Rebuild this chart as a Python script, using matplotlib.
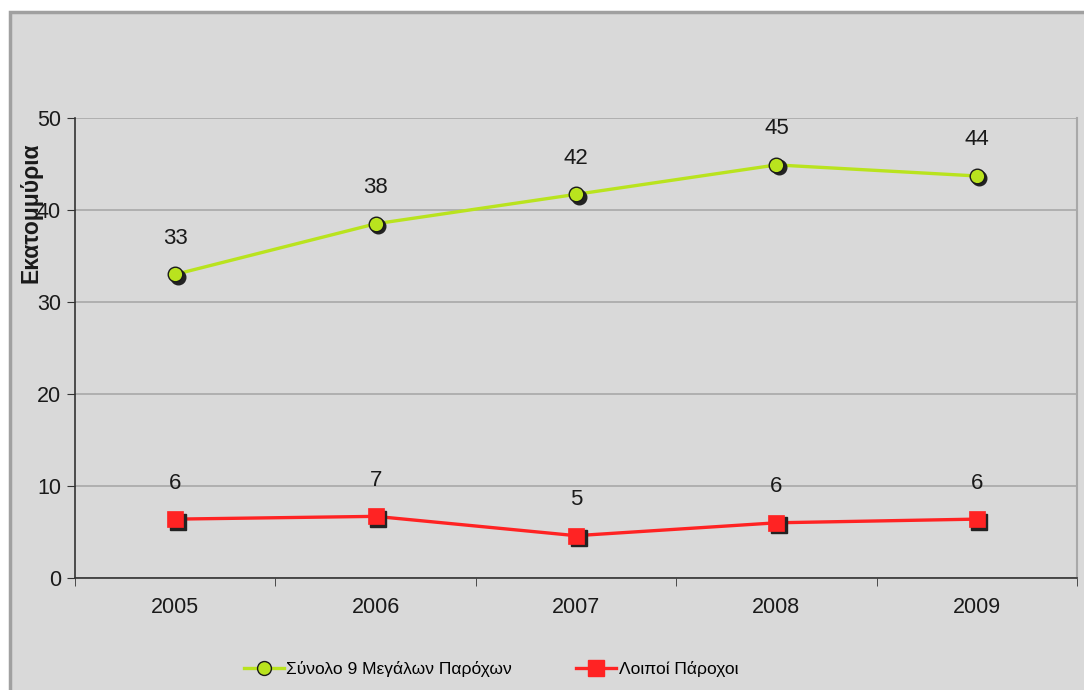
import matplotlib
matplotlib.use("Agg")
import matplotlib.pyplot as plt
import matplotlib.transforms as mtransforms
from matplotlib.patches import Rectangle
from matplotlib.lines import Line2D
import numpy as np

years = ["2005", "2006", "2007", "2008", "2009"]
big9 = [33.0, 38.5, 41.7, 44.9, 43.7]
others = [6.4, 6.7, 4.6, 6.0, 6.4]
big9_labels = ["33", "38", "42", "45", "44"]
others_labels = ["6", "7", "5", "6", "6"]
series_names = ["Σύνολο 9 Μεγάλων Παρόχων", "Λοιποί Πάροχοι"]
ylabel = "Εκατομμύρια"

plt.rcParams['font.family'] = ['Liberation Sans', 'DejaVu Sans']

BG = "#d9d9d9"
GREEN = "#b9e31e"
RED = "#ff2323"

fig = plt.figure(figsize=(10.84, 6.9), dpi=100)
fig.patch.set_facecolor("white")
W, H = 1084, 690
fig.patches.append(Rectangle((10 / W, -0.05), 1.2, 1 - 12 / H + 0.05,
                             transform=fig.transFigure, facecolor=BG,
                             edgecolor="#a0a0a0", linewidth=2.5, zorder=-5))

ax = fig.add_axes([75 / W, 1 - 578 / H, (1077 - 75) / W, 460 / H])
ax.set_zorder(2)
ax.set_facecolor(BG)
x = np.arange(len(years))

shadow = mtransforms.offset_copy(ax.transData, fig=fig, x=2.5, y=-2.5, units='dots')

ax.plot(x, big9, color=GREEN, lw=2.4, zorder=3)
ax.plot(x, big9, ls='none', marker='o', ms=10.5, color="#222222", transform=shadow, zorder=4)
ax.plot(x, big9, ls='none', marker='o', ms=10.5, mfc=GREEN, mec="#1a1a1a", mew=1.0, zorder=5)

ax.plot(x, others, color=RED, lw=2.4, zorder=3)
ax.plot(x, others, ls='none', marker='s', ms=11, color="#222222", transform=shadow, zorder=4)
ax.plot(x, others, ls='none', marker='s', ms=11, mfc=RED, mec=RED, mew=0.5, zorder=5)

for xi, v, t in zip(x, big9, big9_labels):
    ax.annotate(t, (xi, v), xytext=(0, 26), textcoords='offset points',
                ha='center', va='center', fontsize=16, color="#1a1a1a")
for xi, v, t in zip(x, others, others_labels):
    ax.annotate(t, (xi, v), xytext=(0, 26), textcoords='offset points',
                ha='center', va='center', fontsize=16, color="#1a1a1a")

ax.set_xlim(-0.5, 4.5)
ax.set_ylim(0, 50)
ax.set_yticks([0, 10, 20, 30, 40, 50])
ax.yaxis.grid(True, color="#a8a8a8", lw=1.2)
ax.set_axisbelow(True)
ax.set_xticks(x)
ax.set_xticklabels(years)
ax.set_xticks(np.arange(-0.5, 5.0, 1.0), minor=True)
ax.tick_params(axis='x', which='major', length=0, pad=14, labelsize=15.5, labelcolor="#1a1a1a")
ax.tick_params(axis='x', which='minor', length=6, direction='out', color="#333333")
ax.tick_params(axis='y', length=6, direction='out', color="#333333", labelsize=15.5, labelcolor="#1a1a1a", pad=4)

for s in ['left', 'bottom']:
    ax.spines[s].set_color("#333333")
    ax.spines[s].set_linewidth(1.2)
ax.spines['right'].set_color("#a8a8a8")
ax.spines['right'].set_linewidth(1.5)
ax.spines['top'].set_visible(False)

fig.text(31 / W, 1 - 213 / H, ylabel, rotation=90, ha='center', va='center',
         fontsize=16.5, fontweight='bold', color="#1a1a1a", zorder=10)

h1 = Line2D([], [], color=GREEN, lw=2.4, marker='o', ms=10, mfc=GREEN, mec="#1a1a1a")
h2 = Line2D([], [], color=RED, lw=2.4, marker='s', ms=11, mfc=RED, mec=RED)
fig.legend([h1, h2], series_names, loc='center', bbox_to_anchor=(491 / W, 1 - 669 / H),
           ncol=2, frameon=False, prop={'size': 12.5}, handlelength=2.3, columnspacing=3.7,
           handletextpad=0.15)

fig.savefig("out.png", dpi=100, facecolor=fig.get_facecolor())
